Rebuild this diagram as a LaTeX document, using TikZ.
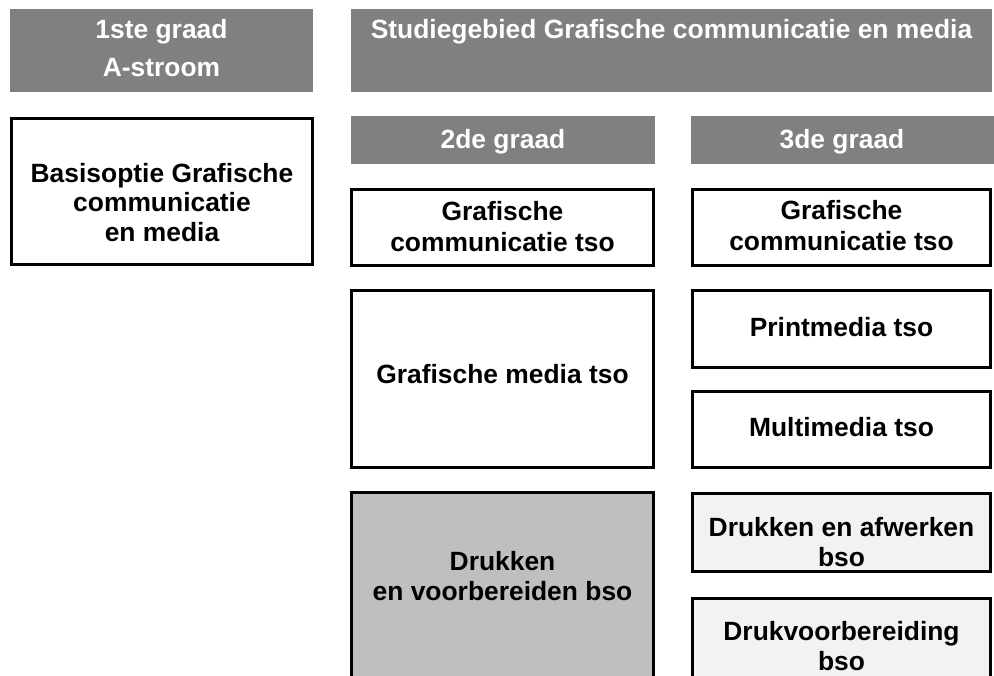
\documentclass[tikz,border=0pt]{standalone}
\usepackage{fontspec}
\setmainfont{Liberation Sans}
\usetikzlibrary{fit}
\definecolor{hdrgray}{RGB}{128,128,128}
\definecolor{dvgray}{RGB}{191,191,191}
\definecolor{bsogray}{RGB}{242,242,242}
\begin{document}
\begin{tikzpicture}[x=0.75pt,y=-0.75pt,
  hdr/.style={fill=hdrgray, draw=none, inner sep=0pt},
  box/.style={draw=black, line width=2.25pt, fill=white, inner sep=0pt},
  txt/.style={anchor=base, inner sep=0pt, font=\bfseries\fontsize{19.8}{22.5}\selectfont},
  htxt/.style={txt, text=white}]
\useasboundingbox (0,0) rectangle (994,675);
\clip (0,0) rectangle (994,675);
\fill[white] (0,0) rectangle (994,675);
% headers
\node[hdr, fit={(10,9) (313,92)}] (h1) {};
\node[htxt] (h1a) at (161.5,38) {1ste graad};
\node[htxt] (h1b) at (161.5,76) {A-stroom};
\node[hdr, fit={(351,9) (992,92)}] (h2) {};
\node[htxt] (h2a) at (671.5,38) {Studiegebied Grafische communicatie en media};
\node[hdr, fit={(351,116) (655,164)}] (h3) {};
\node[htxt] (h3a) at (503,148) {2de graad};
\node[hdr, fit={(691,116) (994,164)}] (h4) {};
\node[htxt] (h4a) at (842,148) {3de graad};
% first column
\node[box, fit={(11.5,118.5) (312.5,264.5)}] (bo) {};
\node[txt] (boa) at (162,182) {Basisoptie Grafische};
\node[txt] (bob) at (162,211) {communicatie};
\node[txt] (boc) at (162,241) {en media};
% second column
\node[box, fit={(351.5,189.5) (653.5,265.5)}] (gc2) {};
\node[txt] (gc2a) at (502.5,220) {Grafische};
\node[txt] (gc2b) at (502.5,251) {communicatie tso};
\node[box, fit={(351.5,290.5) (653.5,467.5)}] (gm) {};
\node[txt] (gma) at (502.5,383) {Grafische media tso};
\node[box, fill=dvgray, fit={(351.5,492.5) (653.5,700)}] (dv) {};
\node[txt] (dva) at (502.5,570) {Drukken};
\node[txt] (dvb) at (502.5,600) {en voorbereiden bso};
% third column
\node[box, fit={(692.5,189.5) (990.5,265.5)}] (gc3) {};
\node[txt] (gc3a) at (841.5,219) {Grafische};
\node[txt] (gc3b) at (841.5,250) {communicatie tso};
\node[box, fit={(692.5,290.5) (990.5,367.5)}] (pm) {};
\node[txt] (pma) at (841.5,336) {Printmedia tso};
\node[box, fit={(692.5,391.5) (990.5,467.5)}] (mm) {};
\node[txt] (mma) at (841.5,436) {Multimedia tso};
\node[box, fill=bsogray, fit={(692.5,493.5) (990.5,571.5)}] (da) {};
\node[txt] (daa) at (841.5,536) {Drukken en afwerken};
\node[txt] (dab) at (841.5,566) {bso};
\node[box, fill=bsogray, fit={(692.5,598.5) (990.5,700)}] (db) {};
\node[txt] (dba) at (841.5,640) {Drukvoorbereiding};
\node[txt] (dbb) at (841.5,670) {bso};
\end{tikzpicture}
\end{document}
